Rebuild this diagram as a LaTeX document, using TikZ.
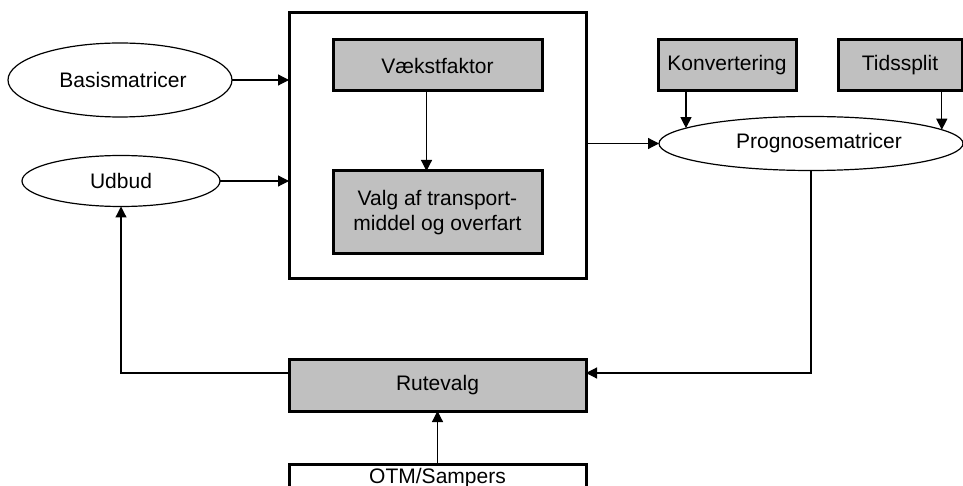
\documentclass[tikz,border=0pt]{standalone}
\usepackage{fontspec}
\setmainfont{Liberation Sans}
\usetikzlibrary{arrows.meta,shapes.geometric,calc}
\definecolor{boxgray}{RGB}{192,192,192}
\begin{document}
\begin{tikzpicture}[x=1pt,y=-1pt,
  font=\fontsize{21}{25}\selectfont,
  gbox/.style={draw, fill=boxgray, line width=3pt, rectangle, inner sep=0pt, outer sep=0pt, align=center},
  wbox/.style={draw, line width=3pt, rectangle, inner sep=0pt, outer sep=0pt, align=center},
  ell/.style={draw, ellipse, line width=1.2pt, inner sep=0pt, outer sep=0pt},
  arr/.style={line width=1.2pt, -{Triangle[length=11pt,width=11pt]}},
  ln/.style={line width=1.2pt}]
\clip (0,0) rectangle (963,486);
% nodes
\node[wbox, minimum width=297pt, minimum height=265pt] (big) at (437.5,145.5) {};
\node[gbox, minimum width=209pt, minimum height=51pt] (vaek) at (437.5,65.5) {Vækstfaktor};
\node[gbox, minimum width=209pt, minimum height=83pt] (valg) at (437.5,212.5) {Valg af transport-\\middel og overfart};
\node[gbox, minimum width=138pt, minimum height=51pt] (konv) at (727,65.5) {Konvertering};
\node[gbox, minimum width=124pt, minimum height=51pt] (tids) at (900,65.5) {Tidssplit};
\node[ell, minimum width=224pt, minimum height=74pt] (basis) at (120,80) {\hspace*{6pt}Basismatricer};
\node[ell, minimum width=198pt, minimum height=51pt] (udbud) at (121,181) {Udbud};
\node[ell, minimum width=304pt, minimum height=54pt] (prog) at (811,143.5) {\hspace*{16pt}Prognosematricer};
\node[gbox, minimum width=297pt, minimum height=52pt] (rute) at (437.5,385) {Rutevalg};
\node[wbox, anchor=north, minimum width=297pt, inner ysep=4pt, text height=15pt, text depth=30pt] (otm) at (437.5,464) {OTM/Sampers};
% connectors
\draw[arr] (basis.east) -- (basis.east -| big.west);
\draw[arr] (udbud.east) -- (udbud.east -| big.west);
\draw[arr] ($(vaek.south)+(-11,0)$) -- ($(valg.north)+(-11,0)$);
\draw[arr] (prog.west -| big.east) -- (prog.west);
\draw[arr] (konv.south -| prog.173) -- (prog.173);
\draw[arr] (tids.south -| prog.6) -- (prog.6);
\draw[arr] (prog.south) |- ($(rute.east)+(0,-12)$);
\draw[arr] ($(rute.west)+(0,-12)$) -| (udbud.south);
\draw[arr] (otm.north) -- (rute.south);
\end{tikzpicture}
\end{document}
